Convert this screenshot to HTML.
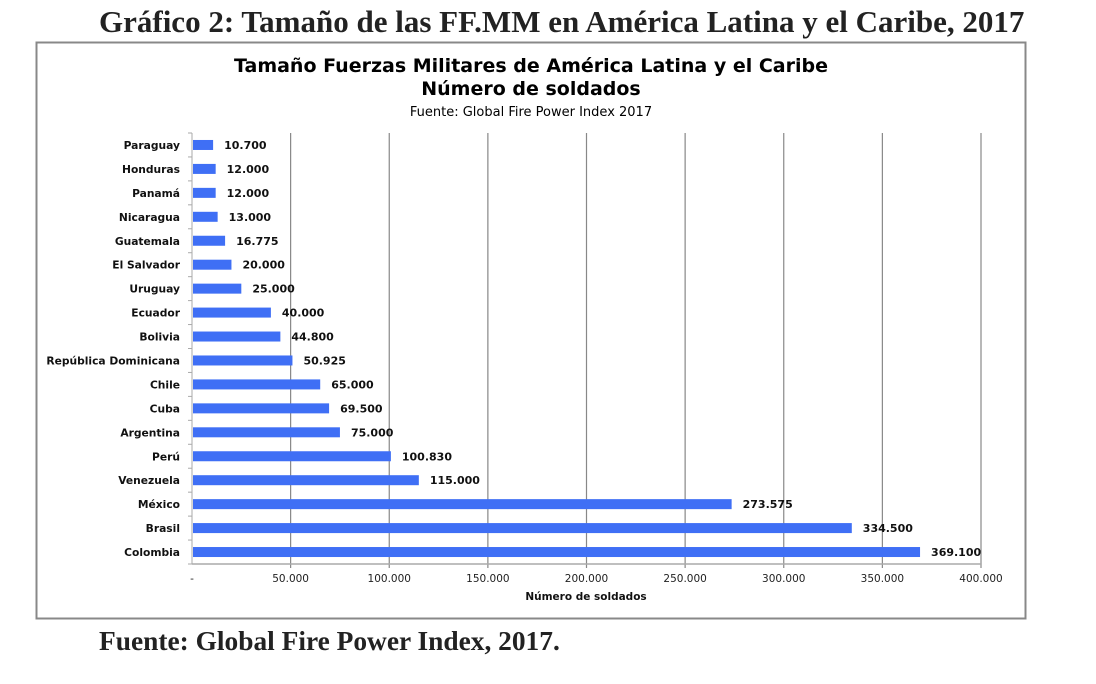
<!DOCTYPE html>
<html><head><meta charset="utf-8"><style>
body{margin:0;background:#fff;width:1096px;height:684px;overflow:hidden;position:relative}
.t{position:absolute;font-family:"Liberation Serif",serif;font-weight:bold;color:#222;white-space:nowrap}
</style></head><body>
<div class="t" style="left:99px;top:4px;font-size:31px;letter-spacing:0px">Gráfico 2: Tamaño de las FF.MM en América Latina y el Caribe, 2017</div>
<div class="t" style="left:99px;top:626px;font-size:27.4px">Fuente: Global Fire Power Index, 2017.</div>
<svg id="c" width="1096" height="684" style="position:absolute;left:0;top:0" font-family="DejaVu Sans, sans-serif"></svg>
<script>
const categories=["Paraguay","Honduras","Panamá","Nicaragua","Guatemala","El Salvador","Uruguay","Ecuador","Bolivia","República Dominicana","Chile","Cuba","Argentina","Perú","Venezuela","México","Brasil","Colombia"];
const values=[10700,12000,12000,13000,16775,20000,25000,40000,44800,50925,65000,69500,75000,100830,115000,273575,334500,369100];
const valueLabels=["10.700","12.000","12.000","13.000","16.775","20.000","25.000","40.000","44.800","50.925","65.000","69.500","75.000","100.830","115.000","273.575","334.500","369.100"];
const ticks=[0,50000,100000,150000,200000,250000,300000,350000,400000];
const tickLabels=["-","50.000","100.000","150.000","200.000","250.000","300.000","350.000","400.000"];
const svg=document.getElementById('c');const NS='http://www.w3.org/2000/svg';
function mk(t,a,txt){const e=document.createElementNS(NS,t);for(const k in a)e.setAttribute(k,a[k]);if(txt!=null)e.textContent=txt;svg.appendChild(e);return e;}
const x0=192,x1=981,yTop=133,yBot=564,n=categories.length,step=(yBot-yTop)/n;
const X=v=>x0+(v/400000)*(x1-x0);const Y=i=>yTop+step*(i+0.5);
let e=mk('rect',{x:36.5,y:42.5,width:989,height:576,fill:'#fff',stroke:'#888','stroke-width':2});


[["Tamaño Fuerzas Militares de América Latina y el Caribe",72,19,'bold'],["Número de soldados",95,19,'bold'],["Fuente: Global Fire Power Index 2017",116,13,'normal']].forEach((t,i)=>{
 e=mk('text',{x:531,y:t[1],'text-anchor':'middle','font-size':t[2],'font-weight':t[3],fill:'#000'},t[0]);
 
 
});
ticks.forEach((v,i)=>{
 if(i>0){e=mk('line',{x1:X(v),x2:X(v),y1:yTop,y2:yBot+4,stroke:'#888','stroke-width':1.2});
 
 }
 e=mk('text',{x:X(v),y:582,'text-anchor':'middle','font-size':10.5,fill:'#222'},tickLabels[i]);
 
 
});
e=mk('line',{x1:x0,x2:x1,y1:yBot,y2:yBot,stroke:'#aaa','stroke-width':1.5});


e=mk('line',{x1:x0,x2:x0,y1:yTop,y2:yBot,stroke:'#aaa','stroke-width':1});


for(let i=0;i<=n;i++){e=mk('line',{x1:x0-4,x2:x0,y1:yTop+step*i,y2:yTop+step*i,stroke:'#aaa'});
 
 }
categories.forEach((c,i)=>{
 const y=Y(i);
 e=mk('rect',{x:x0+1,y:y-5,width:X(values[i])-x0-1,height:10,fill:'#3f6ff5'});
 
 
 e=mk('text',{x:180,y:y+4,'text-anchor':'end','font-size':10.7,'font-weight':'bold',fill:'#111'},c);
 
 
 e=mk('text',{x:X(values[i])+11,y:y+4,'font-size':11,'font-weight':'bold',fill:'#111'},valueLabels[i]);
 
 
});
e=mk('text',{x:586,y:600,'text-anchor':'middle','font-size':10.5,'font-weight':'bold',fill:'#111'},'Número de soldados');


</script>
</body></html>
